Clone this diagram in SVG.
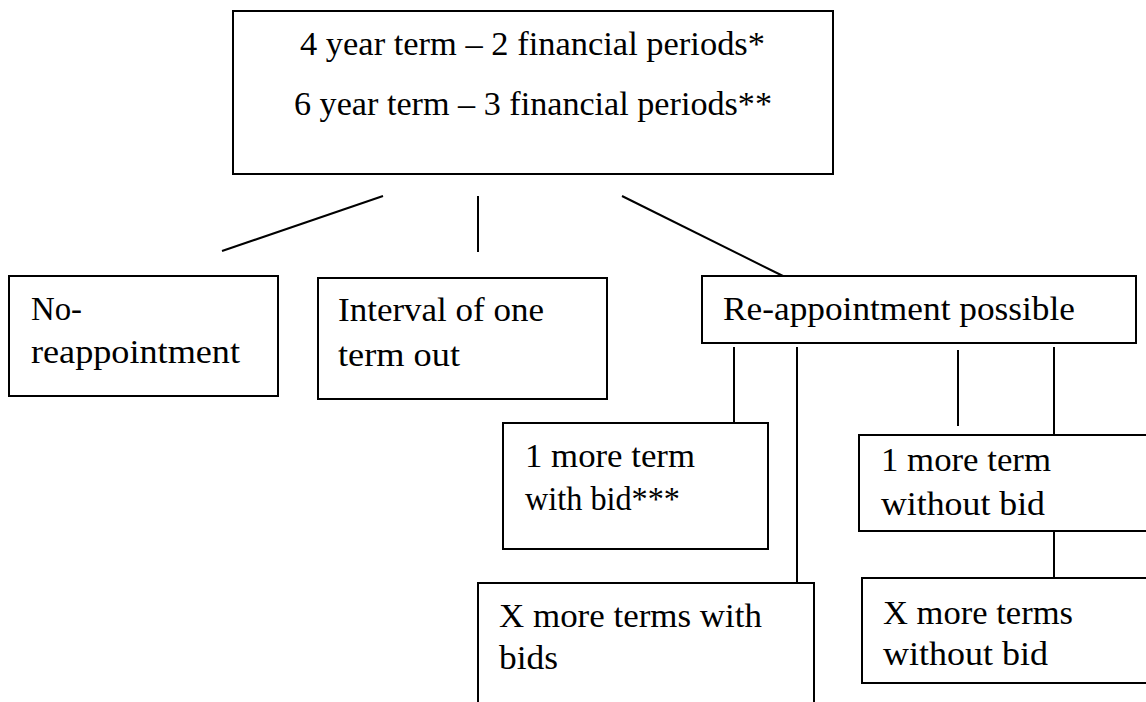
<svg xmlns="http://www.w3.org/2000/svg" width="1146" height="702" viewBox="0 0 1146 702">
<style>
.box{fill:#fff;stroke:#000;stroke-width:2}
.ln{stroke:#000;stroke-width:2;fill:none}
text{font-family:"Liberation Serif",serif;font-size:33px;fill:#000}
</style>
<rect width="1146" height="702" fill="#fff"/>
<g id="connectors">
<line class="ln" x1="383" y1="196" x2="222" y2="251"/>
<line class="ln" x1="478" y1="196" x2="478" y2="252"/>
<line class="ln" x1="622" y1="196" x2="783" y2="276"/>
<line class="ln" x1="734" y1="347" x2="734" y2="423"/>
<line class="ln" x1="797" y1="347" x2="797" y2="583"/>
<line class="ln" x1="958" y1="350" x2="958" y2="426"/>
<line class="ln" x1="1054" y1="347" x2="1054" y2="435"/>
<line class="ln" x1="1054" y1="531" x2="1054" y2="578"/>
</g>
<g id="top">
<rect class="box" x="233" y="11" width="600" height="163"/>
<text x="300" y="55" textLength="465" lengthAdjust="spacingAndGlyphs">4 year term – 2 financial periods*</text>
<text x="294" y="115" textLength="478" lengthAdjust="spacingAndGlyphs">6 year term – 3 financial periods**</text>
</g>
<g id="no-reappointment">
<rect class="box" x="9" y="276" width="269" height="120"/>
<text x="31" y="320" textLength="51" lengthAdjust="spacingAndGlyphs">No-</text>
<text x="31" y="363" textLength="209" lengthAdjust="spacingAndGlyphs">reappointment</text>
</g>
<g id="interval">
<rect class="box" x="318" y="278" width="289" height="121"/>
<text x="338" y="321" textLength="206" lengthAdjust="spacingAndGlyphs">Interval of one</text>
<text x="338" y="366" textLength="122" lengthAdjust="spacingAndGlyphs">term out</text>
</g>
<g id="reappointment">
<rect class="box" x="702" y="276" width="434" height="67"/>
<text x="723" y="320" textLength="352" lengthAdjust="spacingAndGlyphs">Re-appointment possible</text>
</g>
<g id="one-with-bid">
<rect class="box" x="503" y="423" width="265" height="126"/>
<text x="525" y="467" textLength="170" lengthAdjust="spacingAndGlyphs">1 more term</text>
<text x="525" y="510" textLength="155" lengthAdjust="spacingAndGlyphs">with bid***</text>
</g>
<g id="x-with-bids">
<rect class="box" x="478" y="583" width="336" height="140"/>
<text x="499" y="627" textLength="263" lengthAdjust="spacingAndGlyphs">X more terms with</text>
<text x="499" y="669" textLength="59" lengthAdjust="spacingAndGlyphs">bids</text>
</g>
<g id="one-without-bid">
<rect class="box" x="859" y="435" width="301" height="96"/>
<text x="881" y="471" textLength="170" lengthAdjust="spacingAndGlyphs">1 more term</text>
<text x="881" y="515" textLength="164" lengthAdjust="spacingAndGlyphs">without bid</text>
</g>
<g id="x-without-bid">
<rect class="box" x="862" y="578" width="298" height="105"/>
<text x="883" y="624" textLength="190" lengthAdjust="spacingAndGlyphs">X more terms</text>
<text x="883" y="665" textLength="165" lengthAdjust="spacingAndGlyphs">without bid</text>
</g>
</svg>
